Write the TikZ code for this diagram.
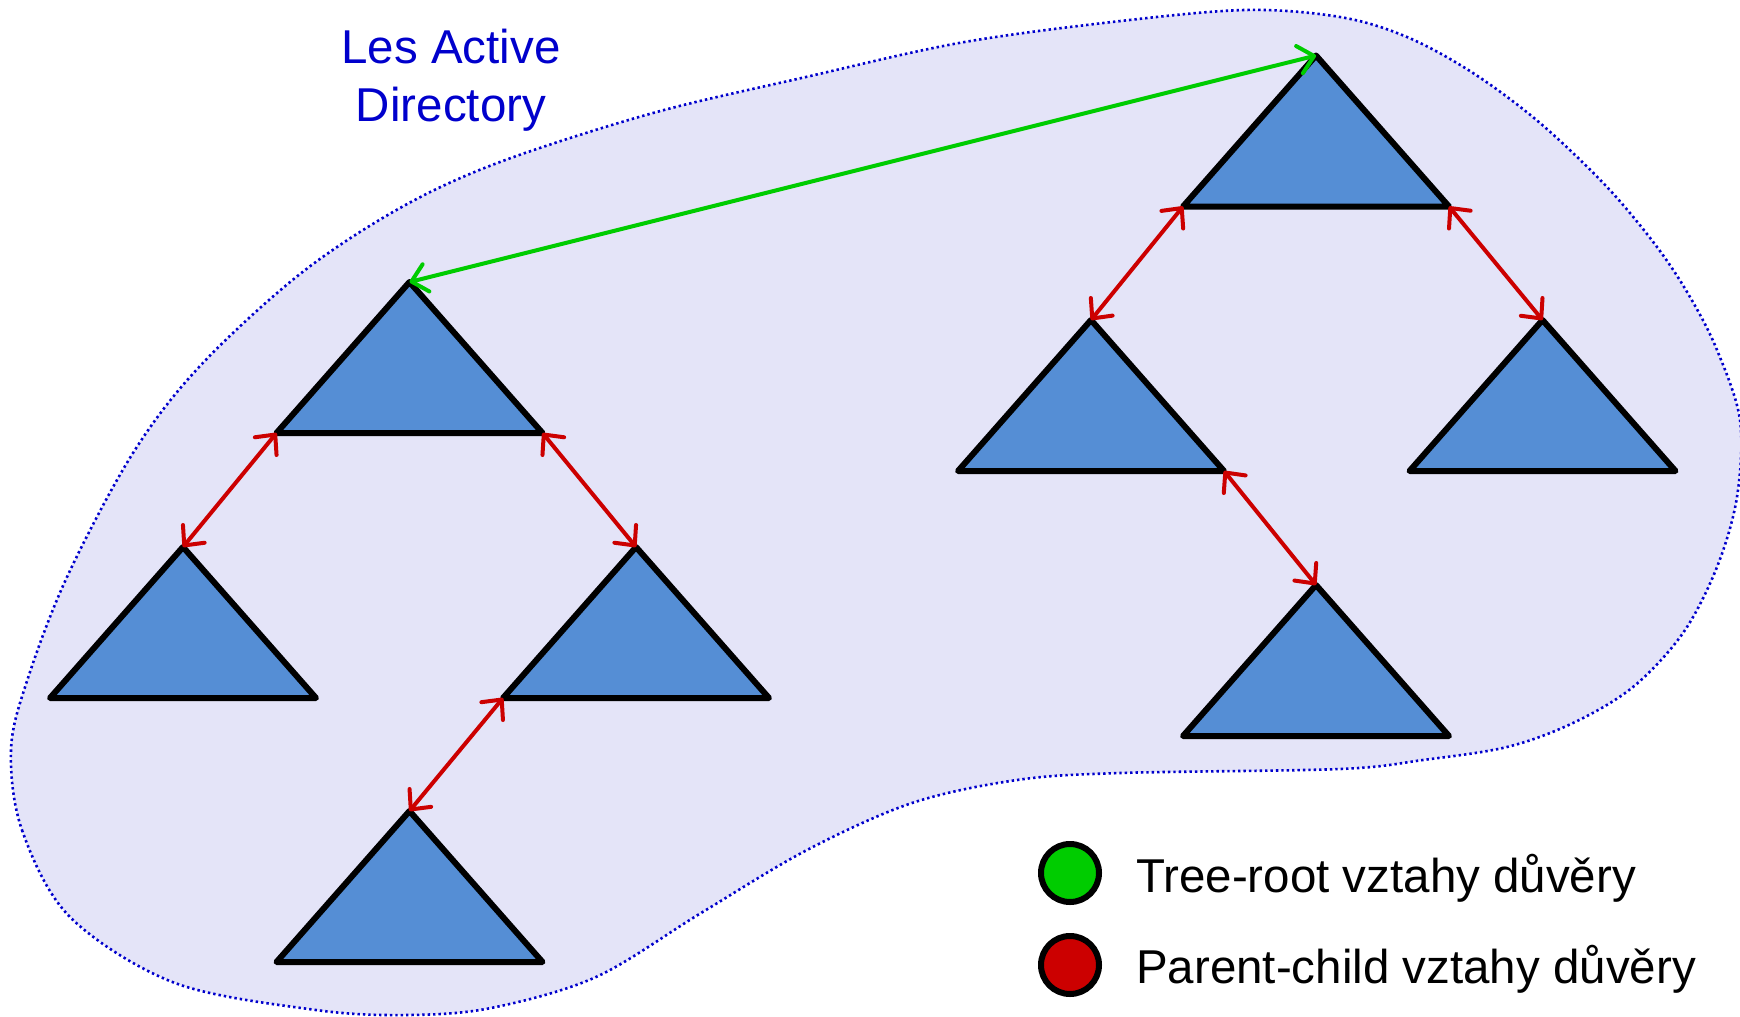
\documentclass[tikz,border=0pt]{standalone}
\usepackage{fontspec}
\setmainfont{Liberation Sans}
\usetikzlibrary{arrows.meta}
\definecolor{blobfill}{HTML}{E4E4F8}
\definecolor{blobline}{HTML}{0000CC}
\definecolor{trifill}{HTML}{558ED5}
\definecolor{trgreen}{HTML}{00CC00}
\definecolor{trred}{HTML}{CC0000}
\definecolor{titleblue}{HTML}{0000CC}
\tikzset{
  tristyle/.style={draw=black, fill=trifill, line width=6pt, line join=round},
  tri/.pic={\draw[tristyle] (0,0) coordinate (-apex) -- (-133,151) coordinate (-l) -- (133,151) coordinate (-r) -- cycle;},
  trustarrow/.style={line width=4pt, line cap=round, {Straight Barb[length=15pt,width=28pt,line cap=round,line join=round]}-{Straight Barb[length=15pt,width=28pt,line cap=round,line join=round]}},
  parentchild/.style={trustarrow, draw=trred},
  treeroot/.style={trustarrow, draw=trgreen},
  legdot/.style={circle, draw=black, line width=6pt, minimum size=58pt, inner sep=0pt},
  legtext/.style={font=\fontsize{47.5}{58}\selectfont, inner sep=0pt, text=black},
  blobstyle/.style={fill=blobfill, draw=blobline, line width=2.6pt, dash pattern=on 2.4pt off 3pt}
}
\begin{document}
\begin{tikzpicture}[x=1pt,y=-1pt]
\useasboundingbox (0,0) rectangle (1740,1017);
% forest blob
\path[blobstyle] plot[smooth cycle, tension=0.55] coordinates {
  (11,750) (22,830) (70,917) (175,983) (316,1010) (407,1015) (491,1008)
  (596,977) (701,913) (807,850) (912,803) (1017,780) (1120,773)
  (1340,769) (1423,760) (1507,747) (1573,723) (1633,687) (1683,633)
  (1717,567) (1737,497) (1740,420) (1717,350) (1690,297) (1657,247)
  (1607,187) (1540,123) (1473,73) (1407,37) (1340,17) (1245,10)
  (1112,22) (959,43) (806,77) (653,113) (500,162) (400,208) (300,274)
  (200,366) (133,453) (67,577) (27,681)};
% title
\node[font=\fontsize{47.5}{58}\selectfont, text=titleblue, align=center, anchor=north, inner sep=0pt] (title) at (451,29) {Les Active\\Directory};
% left domain tree
\pic (t1) at (409.5,282) {tri};
\pic (t2) at (183,547) {tri};
\pic (t3) at (636,547) {tri};
\pic (t4) at (409.5,811) {tri};
% right domain tree
\pic (t5) at (1316,55.5) {tri};
\pic (t6) at (1091,320) {tri};
\pic (t7) at (1542.5,320) {tri};
\pic (t8) at (1316,585) {tri};
% trust relations
\draw[treeroot] (t1-apex) -- (t5-apex);
\draw[parentchild] (t1-l) -- (t2-apex);
\draw[parentchild] (t1-r) -- (t3-apex);
\draw[parentchild] (t3-l) -- (t4-apex);
\draw[parentchild] (t5-l) -- (t6-apex);
\draw[parentchild] (t5-r) -- (t7-apex);
\draw[parentchild] (t6-r) -- (t8-apex);
% legend
\node[legdot, fill=trgreen] (lg) at (1070,873) {};
\node[legtext, anchor=base west] (lgt) at (1136,892) {Tree-root vztahy důvěry};
\node[legdot, fill=trred] (lr) at (1070,965) {};
\node[legtext, anchor=base west] (lrt) at (1136,983) {Parent-child vztahy důvěry};
\end{tikzpicture}
\end{document}
